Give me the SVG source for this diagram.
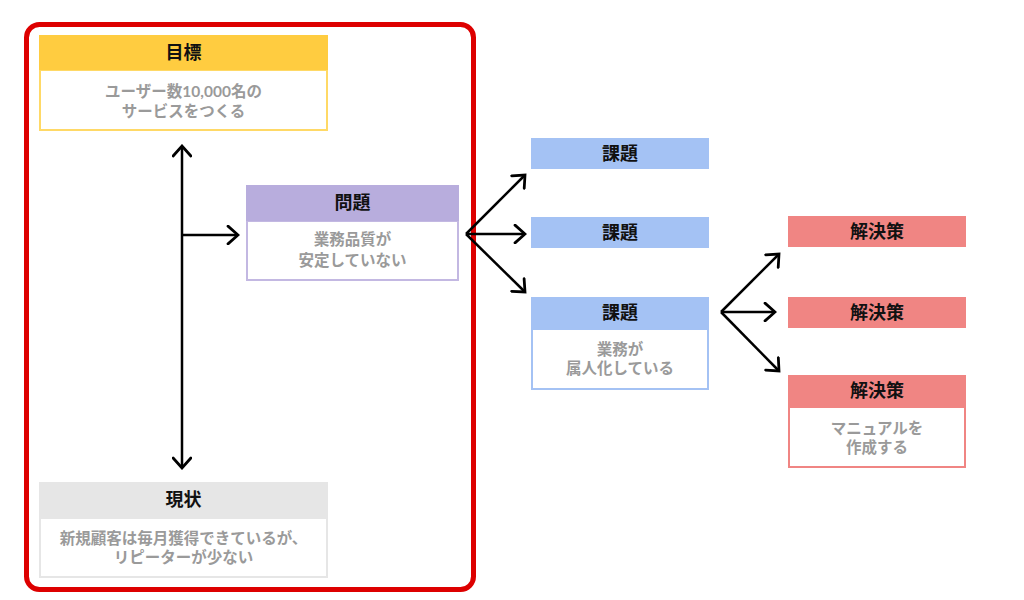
<svg xmlns="http://www.w3.org/2000/svg" width="1024" height="600" viewBox="0 0 1024 600">
<defs>
<marker id="ah" markerUnits="userSpaceOnUse" markerWidth="16" markerHeight="20" viewBox="-12 -9 14 18" refX="0" refY="0" orient="auto-start-reverse">
<path d="M-9,-8 L0,0 L-9,8" fill="none" stroke="#000" stroke-width="2.5" stroke-linecap="round" stroke-linejoin="miter"/>
</marker>
</defs>
<style>
.h{font-family:Lato,"Noto Sans CJK JP",sans-serif;font-weight:700;font-size:18px;fill:#111;text-anchor:middle}
.b{font-family:Lato,"Noto Sans CJK JP",sans-serif;font-weight:700;font-size:15.5px;fill:#9a9a9a;text-anchor:middle}
.c{fill:none;stroke:#000;stroke-width:2.5;marker-end:url(#ah)}
.w{fill:#fff}
</style>
<rect width="1024" height="600" fill="#fff"/>
<rect x="26.5" y="24.5" width="447" height="565" rx="13" fill="none" stroke="#DD0000" stroke-width="5"/>

<g id="goal">
<rect x="39" y="35" width="289" height="96" fill="#FFD966"/>
<rect x="39" y="35" width="289" height="35" fill="#FFCC40"/>
<rect class="w" x="41" y="71" width="285" height="58"/>
<text class="h" x="183.5" y="59">目標</text>
<text class="b" x="183.5" y="97">ユーザー数10,000名の</text>
<text class="b" x="183.5" y="117">サービスをつくる</text>
</g>

<g id="problem">
<rect x="246" y="185" width="213" height="96" fill="#C3B8E2"/>
<rect x="246" y="185" width="213" height="36" fill="#B8ADDD"/>
<rect class="w" x="248" y="222" width="209" height="57"/>
<text class="h" x="352.5" y="209">問題</text>
<text class="b" x="352.5" y="245">業務品質が</text>
<text class="b" x="352.5" y="266">安定していない</text>
</g>

<g id="current">
<rect x="39" y="482" width="289" height="96" fill="#E6E6E6"/>
<rect class="w" x="41" y="519" width="285" height="57"/>
<text class="h" x="183.5" y="506">現状</text>
<text class="b" x="183.5" y="544">新規顧客は毎月獲得できているが、</text>
<text class="b" x="183.5" y="563">リピーターが少ない</text>
</g>

<g id="task1">
<rect x="531" y="138" width="178" height="31" fill="#A4C2F4"/>
<text class="h" x="620" y="160">課題</text>
</g>
<g id="task2">
<rect x="531" y="217" width="178" height="31" fill="#A4C2F4"/>
<text class="h" x="620" y="239">課題</text>
</g>
<g id="task3">
<rect x="531" y="297" width="178" height="93" fill="#A4C2F4"/>
<rect class="w" x="533" y="330" width="174" height="58"/>
<text class="h" x="620" y="319">課題</text>
<text class="b" x="620" y="355">業務が</text>
<text class="b" x="620" y="374">属人化している</text>
</g>

<g id="sol1">
<rect x="788" y="216" width="178" height="31" fill="#F08583"/>
<text class="h" x="877" y="238">解決策</text>
</g>
<g id="sol2">
<rect x="788" y="297" width="178" height="31" fill="#F08583"/>
<text class="h" x="877" y="319">解決策</text>
</g>
<g id="sol3">
<rect x="788" y="375" width="178" height="93" fill="#F08583"/>
<rect class="w" x="790" y="408" width="174" height="58"/>
<text class="h" x="877" y="397">解決策</text>
<text class="b" x="877" y="434">マニュアルを</text>
<text class="b" x="877" y="453">作成する</text>
</g>

<g id="connectors">
<line class="c" x1="182" y1="146" x2="182" y2="468" style="marker-start:url(#ah)"/>
<line class="c" x1="182" y1="235" x2="238" y2="235"/>
<line class="c" x1="466" y1="234" x2="525" y2="175"/>
<line class="c" x1="466" y1="234" x2="525" y2="234"/>
<line class="c" x1="466" y1="234" x2="525" y2="292"/>
<line class="c" x1="721" y1="312" x2="779" y2="254"/>
<line class="c" x1="721" y1="312" x2="775" y2="312"/>
<line class="c" x1="721" y1="312" x2="779" y2="371"/>
</g>
</svg>
